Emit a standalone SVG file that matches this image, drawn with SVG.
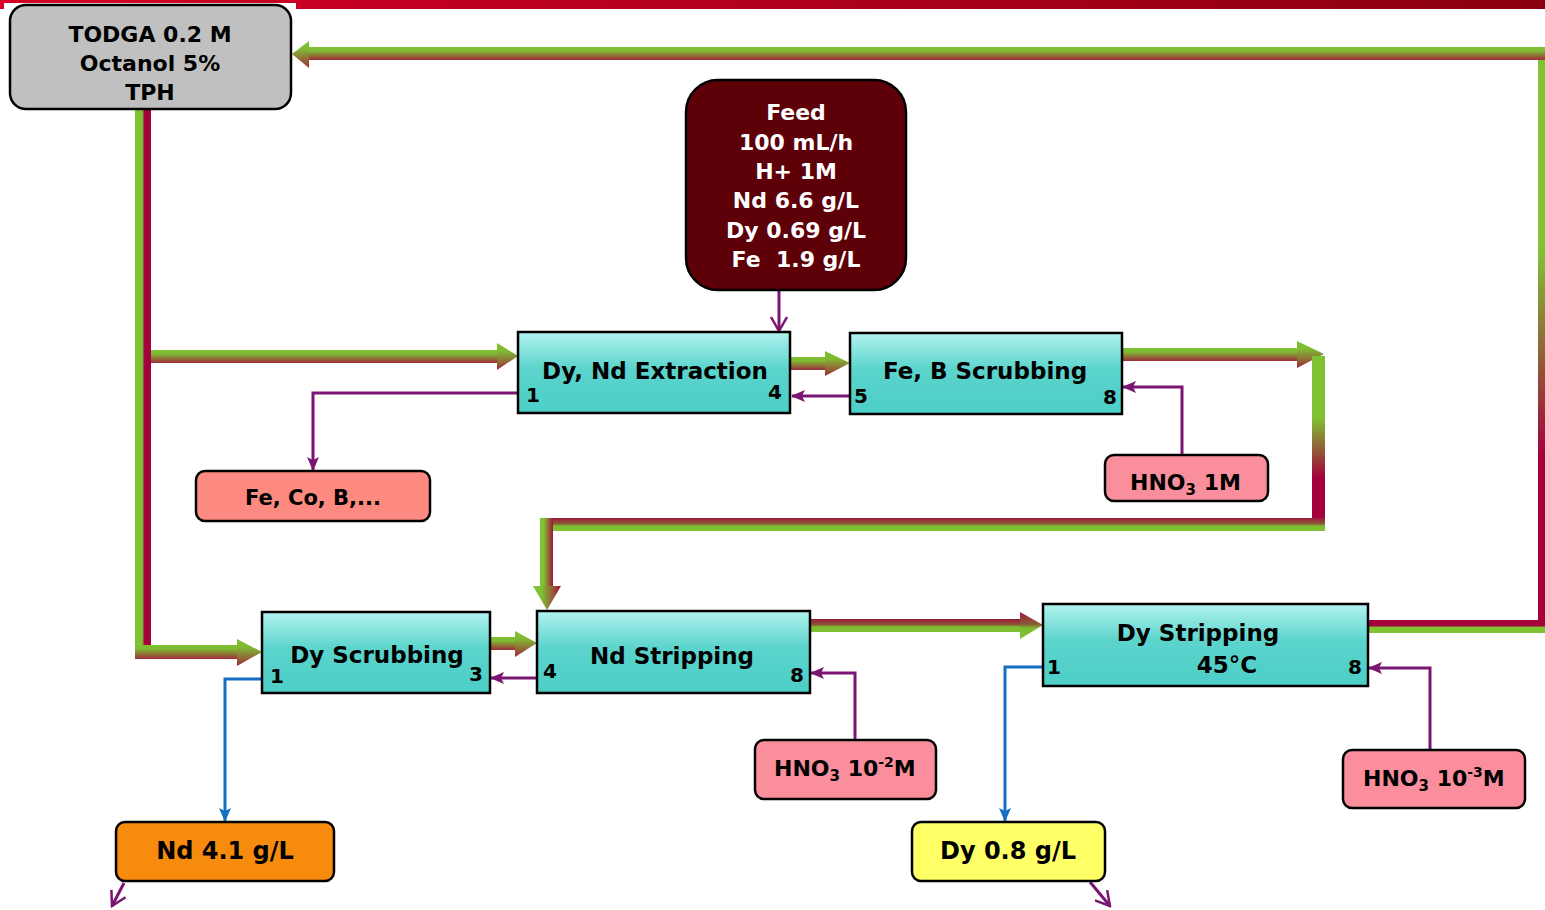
<svg xmlns="http://www.w3.org/2000/svg" width="1545" height="910" viewBox="0 0 1545 910">
<style>
text{font-family:"DejaVu Sans","Verdana",sans-serif;font-weight:bold;fill:#000;}
.t{font-size:23px;text-anchor:middle;}
.w{fill:#fff;font-size:22px;text-anchor:middle;}
.n{font-size:20px;}
.box{stroke:#000;stroke-width:2.5;}
.pu{fill:none;stroke:#7b1572;stroke-width:3;}
.bl{fill:none;stroke:#1570c4;stroke-width:3;}
</style>
<defs>
<linearGradient id="bar" x1="0" y1="0" x2="1" y2="0"><stop offset="0" stop-color="#d6002a"/><stop offset="1" stop-color="#8a000f"/></linearGradient>
<linearGradient id="cy" x1="0" y1="0" x2="0" y2="1"><stop offset="0" stop-color="#b2f3ef"/><stop offset="0.45" stop-color="#5bd4cc"/><stop offset="1" stop-color="#4ccec6"/></linearGradient>
<linearGradient id="gTB" x1="0" y1="0" x2="0" y2="1"><stop offset="0" stop-color="#7fc233"/><stop offset="0.3" stop-color="#7fba33"/><stop offset="1" stop-color="#9e2a3a"/></linearGradient>
<linearGradient id="gRG" x1="0" y1="0" x2="0" y2="1"><stop offset="0" stop-color="#9e1a3a"/><stop offset="0.45" stop-color="#8a5a36"/><stop offset="0.6" stop-color="#7fbb33"/><stop offset="1" stop-color="#7fc233"/></linearGradient>
<linearGradient id="gRG2" x1="0" y1="0" x2="0" y2="1"><stop offset="0" stop-color="#a3003c"/><stop offset="0.45" stop-color="#a3003c"/><stop offset="0.55" stop-color="#7fc233"/><stop offset="1" stop-color="#7fc233"/></linearGradient>
<linearGradient id="gLR" x1="0" y1="0" x2="1" y2="0"><stop offset="0" stop-color="#7fc233"/><stop offset="0.45" stop-color="#7fc233"/><stop offset="0.6" stop-color="#a3003c"/><stop offset="1" stop-color="#a3003c"/></linearGradient>
<linearGradient id="gLR2" x1="0" y1="0" x2="1" y2="0"><stop offset="0" stop-color="#7fc233"/><stop offset="0.3" stop-color="#7fc233"/><stop offset="1" stop-color="#a3103c"/></linearGradient>
<linearGradient id="gDown" x1="0" y1="0" x2="0" y2="1"><stop offset="0" stop-color="#7fc233"/><stop offset="0.35" stop-color="#7fc233"/><stop offset="0.7" stop-color="#a3003c"/><stop offset="1" stop-color="#a3003c"/></linearGradient>
<marker id="tri" markerUnits="userSpaceOnUse" markerWidth="14" markerHeight="14" viewBox="0 0 14 14" refX="13" refY="7" orient="auto"><path d="M0,1 L14,7 L0,13 L3,7 Z" fill="#7b1572"/></marker>
<marker id="triB" markerUnits="userSpaceOnUse" markerWidth="14" markerHeight="14" viewBox="0 0 14 14" refX="13" refY="7" orient="auto"><path d="M0,1 L14,7 L0,13 L3,7 Z" fill="#1570c4"/></marker>
<marker id="vee" markerUnits="userSpaceOnUse" markerWidth="18" markerHeight="18" viewBox="0 0 18 18" refX="16" refY="9" orient="auto"><path d="M2,1 L16,9 L2,17" fill="none" stroke="#7b1572" stroke-width="2.5"/></marker>
</defs>
<rect x="0" y="0" width="1545" height="9" fill="url(#bar)"/>
<rect x="4" y="3" width="292" height="7" fill="#fff"/>

<g id="connectors">
<rect x="1538" y="47" width="7" height="586" fill="url(#gDown)"/>
<rect x="1368" y="620" width="177" height="13" fill="url(#gRG2)"/>
<rect x="307" y="47" width="1238" height="13" fill="url(#gTB)"/>
<polygon points="292,54 309,41 309,68" fill="url(#gTB)"/>
<rect x="135" y="109" width="16" height="540" fill="url(#gLR)"/>
<rect x="135" y="645" width="104" height="14" fill="url(#gTB)"/>
<polygon points="262,652 237,639 237,666" fill="url(#gTB)"/>
<rect x="151" y="350" width="348" height="13" fill="url(#gTB)"/>
<polygon points="518,356 497,343 497,370" fill="url(#gTB)"/>
<rect x="790" y="357" width="37" height="13" fill="url(#gTB)"/>
<polygon points="850,363 825,351 825,376" fill="url(#gTB)"/>
<rect x="1122" y="348" width="177" height="13" fill="url(#gTB)"/>
<polygon points="1324,354 1297,341 1297,368" fill="url(#gTB)"/>
<rect x="1312" y="356" width="13" height="175" fill="url(#gDown)"/>
<rect x="541" y="518" width="784" height="13" fill="url(#gRG)"/>
<rect x="540" y="518" width="13" height="69" fill="url(#gLR2)"/>
<polygon points="547,610 533,586 561,586" fill="url(#gLR2)"/>
<rect x="490" y="637" width="26" height="13" fill="url(#gTB)"/>
<polygon points="537,643 515,631 515,657" fill="url(#gTB)"/>
<rect x="811" y="619" width="211" height="13" fill="url(#gRG)"/>
<polygon points="1043,625 1020,612 1020,639" fill="url(#gRG)"/>
<path class="pu" d="M779,290 V331" marker-end="url(#vee)"/>
<path class="pu" d="M850,396 H792" marker-end="url(#tri)"/>
<path class="pu" d="M518,393 H313 V470" marker-end="url(#tri)"/>
<path class="pu" d="M1182,455 V387 H1123" marker-end="url(#tri)"/>
<path class="pu" d="M537,678 H491" marker-end="url(#tri)"/>
<path class="pu" d="M855,740 V673 H811" marker-end="url(#tri)"/>
<path class="pu" d="M1430,750 V668 H1369" marker-end="url(#tri)"/>
<path class="bl" d="M262,679 H225 V821" marker-end="url(#triB)"/>
<path class="bl" d="M1043,667 H1005 V821" marker-end="url(#triB)"/>
<path class="pu" d="M124,883 L112,906" stroke-width="2.5" marker-end="url(#vee)"/>
<path class="pu" d="M1090,882 L1110,906" stroke-width="2.5" marker-end="url(#vee)"/>
</g>

<g id="todga">
<rect class="box" x="10" y="5" width="281" height="104" rx="16" fill="#c0c0c0"/>
<text class="t" x="150" y="42" style="font-size:22px">TODGA 0.2 M</text>
<text class="t" x="150" y="71" style="font-size:22px">Octanol 5%</text>
<text class="t" x="150" y="100" style="font-size:22px">TPH</text>
</g>

<g id="feed">
<rect class="box" x="686" y="80" width="220" height="210" rx="32" fill="#5e0008"/>
<text class="w" x="796" y="120">Feed</text>
<text class="w" x="796" y="150">100 mL/h</text>
<text class="w" x="796" y="179">H+ 1M</text>
<text class="w" x="796" y="208">Nd 6.6 g/L</text>
<text class="w" x="796" y="238">Dy 0.69 g/L</text>
<text class="w" x="796" y="267" style="white-space:pre">Fe  1.9 g/L</text>
</g>

<g id="extraction">
<rect class="box" x="518" y="332" width="272" height="81" fill="url(#cy)"/>
<text class="t" x="655" y="379">Dy, Nd Extraction</text>
<text class="n" x="526" y="402">1</text>
<text class="n" x="768" y="399">4</text>
</g>

<g id="fe-scrubbing">
<rect class="box" x="850" y="333" width="272" height="81" fill="url(#cy)"/>
<text class="t" x="985" y="379">Fe, B Scrubbing</text>
<text class="n" x="854" y="403">5</text>
<text class="n" x="1103" y="404">8</text>
</g>

<g id="hno3-1m">
<rect class="box" x="1105" y="455" width="163" height="46" rx="9" fill="#fb8e9c"/>
<text x="1130" y="490" style="font-size:22px">HNO<tspan style="font-size:15px" dy="5">3</tspan><tspan dy="-5"> 1M</tspan></text>
</g>

<g id="fe-co-b">
<rect class="box" x="196" y="471" width="234" height="50" rx="9" fill="#fd8a80"/>
<text x="313" y="505" style="font-size:21px;text-anchor:middle">Fe, Co, B,...</text>
</g>

<g id="dy-scrubbing">
<rect class="box" x="262" y="612" width="228" height="81" fill="url(#cy)"/>
<text class="t" x="377" y="663">Dy Scrubbing</text>
<text class="n" x="270" y="683">1</text>
<text class="n" x="469" y="681">3</text>
</g>

<g id="nd-stripping">
<rect class="box" x="537" y="611" width="273" height="82" fill="url(#cy)"/>
<text class="t" x="672" y="664">Nd Stripping</text>
<text class="n" x="543" y="678">4</text>
<text class="n" x="790" y="682">8</text>
</g>

<g id="dy-stripping">
<rect class="box" x="1043" y="604" width="325" height="82" fill="url(#cy)"/>
<text class="t" x="1198" y="641">Dy Stripping</text>
<text class="t" x="1227" y="673">45°C</text>
<text class="n" x="1047" y="674">1</text>
<text class="n" x="1348" y="674">8</text>
</g>

<g id="hno3-2">
<rect class="box" x="755" y="740" width="181" height="59" rx="9" fill="#fb8e9c"/>
<text x="774" y="776" style="font-size:22px">HNO<tspan style="font-size:15px" dy="5">3</tspan><tspan dy="-5"> 10</tspan><tspan style="font-size:14px" dy="-9">-2</tspan><tspan dy="9">M</tspan></text>
</g>

<g id="hno3-3">
<rect class="box" x="1343" y="750" width="182" height="58" rx="9" fill="#fb8e9c"/>
<text x="1363" y="786" style="font-size:22px">HNO<tspan style="font-size:15px" dy="5">3</tspan><tspan dy="-5"> 10</tspan><tspan style="font-size:14px" dy="-9">-3</tspan><tspan dy="9">M</tspan></text>
</g>

<g id="nd-product">
<rect class="box" x="116" y="822" width="218" height="59" rx="9" fill="#f68b0e"/>
<text x="225" y="859" style="font-size:24px;text-anchor:middle">Nd 4.1 g/L</text>
</g>

<g id="dy-product">
<rect class="box" x="912" y="822" width="193" height="59" rx="9" fill="#ffff66"/>
<text x="1008" y="859" style="font-size:24px;text-anchor:middle">Dy 0.8 g/L</text>
</g>
</svg>
